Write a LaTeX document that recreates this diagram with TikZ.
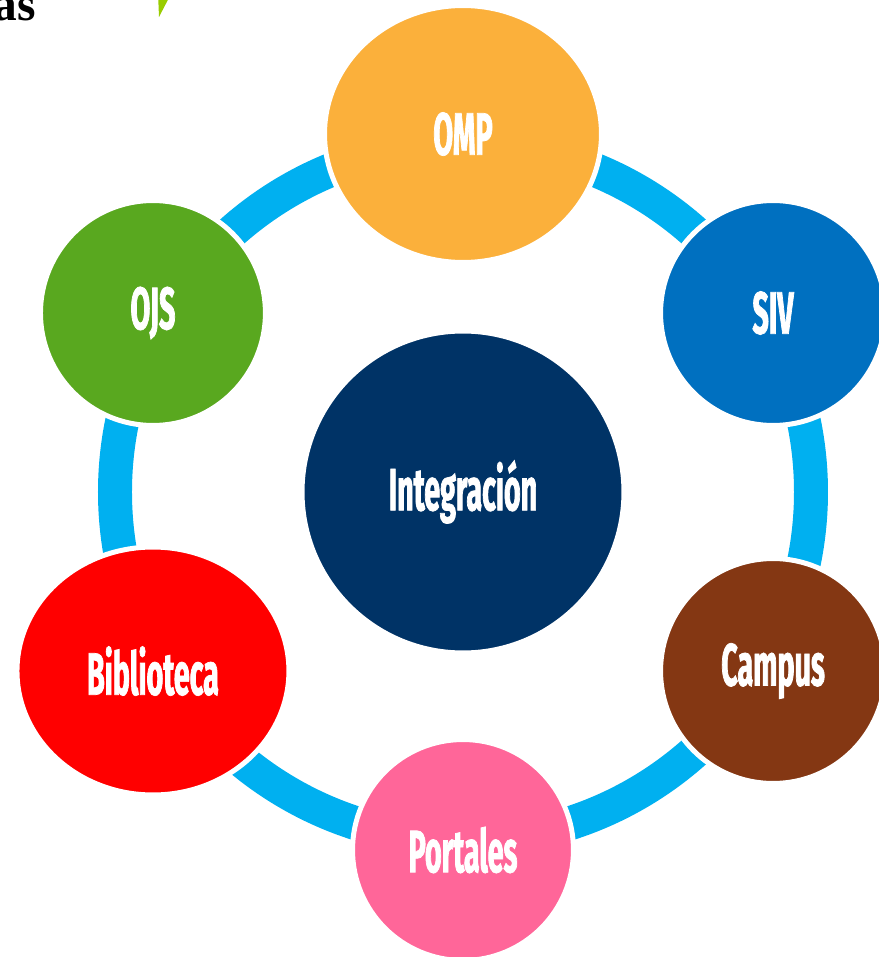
\documentclass[tikz,border=0pt]{standalone}
\usepackage{fontspec}
\usepackage{tikz}
\usetikzlibrary{shapes.geometric}
\newfontfamily\etiqueta{Fira Sans}[FakeStretch=0.48, FakeBold=1.2]
\newfontfamily\serifa{Liberation Serif}

\definecolor{anillo}{RGB}{0,176,240}
\definecolor{naranja}{RGB}{251,176,59}
\definecolor{azulsiv}{RGB}{0,112,192}
\definecolor{verdeojs}{RGB}{89,168,31}
\definecolor{azulcentro}{RGB}{0,51,102}
\definecolor{cafe}{RGB}{132,55,19}
\definecolor{rosa}{RGB}{255,102,153}
\definecolor{limon}{RGB}{153,204,0}

\tikzset{
  bola/.style={circle, draw=white, line width=0.1cm, text=white,
    font=\etiqueta\bfseries\fontsize{34}{36}\selectfont, inner sep=0pt},
  ovalo/.style={bola, ellipse}
}

\begin{document}
\begin{tikzpicture}[x=0.02cm, y=0.02cm] % 1 unidad = 1 pixel
\newcommand{\radio}{358}
\useasboundingbox (-463,-465) rectangle (416,492);
\clip (-463,-465) rectangle (416,492);

% anillo de fondo
\draw [anillo, line width=0.68cm] (0,0) circle (348);

% centro
\node[bola, fill=azulcentro, minimum size=6.44cm] (centro) at (0,0) {Integración};

% satelites
\node[ovalo, fill=naranja, minimum width=5.54cm, minimum height=5.14cm] (omp) at (90:\radio) {OMP};
\node[bola, fill=azulsiv, minimum size=4.5cm] (siv) at (30:\radio) {SIV};
\node[bola, fill=cafe, minimum size=4.5cm] (campus) at (-30:\radio) {Campus};
\node[bola, fill=rosa, minimum size=4.42cm] (portales) at (-90:\radio) {Portales};
\node[ovalo, fill=red, minimum width=5.44cm, minimum height=4.96cm] (biblioteca) at (210:\radio) {Biblioteca};
\node[bola, fill=verdeojs, minimum size=4.5cm] (ojs) at (150:\radio) {OJS};

% esquina de arriba
\node[anchor=base east, inner sep=0pt, font=\serifa\bfseries\fontsize{27}{27}\selectfont] (titulo) at (-427,471) {as};
\fill [limon] (-305,500) -- (-291,500) -- (-304,475) -- cycle;
\end{tikzpicture}
\end{document}
